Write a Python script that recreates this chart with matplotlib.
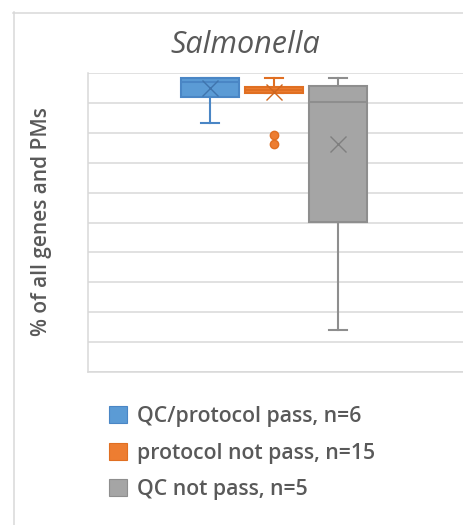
import matplotlib
matplotlib.use("Agg")
import matplotlib.pyplot as plt
from matplotlib.patches import Patch
from matplotlib.lines import Line2D

# ---- data (% scale 0-100, no tick labels shown) ----
categories = ["QC/protocol pass, n=6", "protocol not pass, n=15", "QC not pass, n=5"]
whisker_low = [83.3, 93.2, 14.1]
q1 = [92.1, 93.2, 50.3]
median = [97.1, 94.4, 90.2]
q3 = [98.4, 95.2, 95.6]
whisker_high = [98.4, 98.4, 98.4]
means = [94.9, 93.5, 76.1]
outliers = [[], [79.3, 76.3], []]

title = "Salmonella"
ylabel = "% of all genes and PMs"

fill_colors = ["#5B9BD5", "#ED7D31", "#A5A5A5"]
edge_colors = ["#4A86C5", "#E06F22", "#8E8E8E"]
mean_colors = ["#3F74AD", "#D0661E", "#7F7F7F"]

FONT = ["Open Sans", "DejaVu Sans"]
W, H = 463, 525
fig = plt.figure(figsize=(W / 100, H / 100), dpi=100)

# axes: left 88px, right edge of image, top 73px, bottom 372px
ax = fig.add_axes([88 / W, 1 - 372 / H, (W - 88) / W, (372 - 73) / H])
ax.set_xlim(0, 1)
ax.set_ylim(0, 100)
ax.set_yticks(range(0, 101, 10))
ax.yaxis.grid(True, color="#D9D9D9", lw=1.1)
ax.set_axisbelow(True)
ax.tick_params(length=0, labelleft=False, labelbottom=False)
ax.set_xticks([])
for s in ["top", "right"]:
    ax.spines[s].set_visible(False)
for s in ["left", "bottom"]:
    ax.spines[s].set_color("#D9D9D9")
    ax.spines[s].set_linewidth(1.1)

positions = [122 / 375, 186 / 375, 250 / 375]
box_w = 58 / 375
cap_w = 18 / 375

for i in range(len(categories)):
    stats = [dict(med=median[i], q1=q1[i], q3=q3[i], whislo=whisker_low[i],
                  whishi=whisker_high[i], mean=means[i], fliers=outliers[i])]
    ax.bxp(stats, positions=[positions[i]], widths=box_w, capwidths=cap_w,
           patch_artist=True, showmeans=True, manage_ticks=False,
           boxprops=dict(facecolor=fill_colors[i], edgecolor=edge_colors[i], lw=1.5),
           medianprops=dict(color=edge_colors[i], lw=1.5),
           whiskerprops=dict(color=edge_colors[i], lw=1.5),
           capprops=dict(color=edge_colors[i], lw=1.5),
           meanprops=dict(marker="x", markersize=11, markeredgecolor=mean_colors[i],
                          markeredgewidth=1.0),
           flierprops=dict(marker="o", markersize=6, markerfacecolor=fill_colors[i],
                           markeredgecolor=edge_colors[i]))

# chart outer border (left and top, right side is cropped)
fig.add_artist(Line2D([13.5 / W, 13.5 / W], [0, 1 - 12 / H], color="#D9D9D9", lw=1.1,
                      transform=fig.transFigure))
fig.add_artist(Line2D([13 / W, 1], [1 - 12.5 / H, 1 - 12.5 / H], color="#D9D9D9", lw=1.1,
                      transform=fig.transFigure))

fig.text(245.5 / W, 1 - 45 / H, title, ha="center", va="center", fontsize=22,
         style="italic", color="#595959", family=FONT)
fig.text(42 / W, 1 - 222 / H, ylabel, ha="center", va="center", rotation=90,
         fontsize=15, color="#595959", family=FONT, fontweight="semibold")

handles = [Patch(facecolor=fill_colors[i], edgecolor=edge_colors[i], lw=0.8)
           for i in range(len(categories))]
leg = fig.legend(handles, categories, loc="center left",
                 bbox_to_anchor=(109 / W, 1 - 453 / H), frameon=False,
                 prop=dict(family=FONT, size=15.3, weight="semibold"),
                 handlelength=0.85, handleheight=0.85, handletextpad=0.45,
                 labelspacing=0.74, borderpad=0, borderaxespad=0)
for t in leg.get_texts():
    t.set_color("#595959")

fig.savefig("out.png", dpi=100)
